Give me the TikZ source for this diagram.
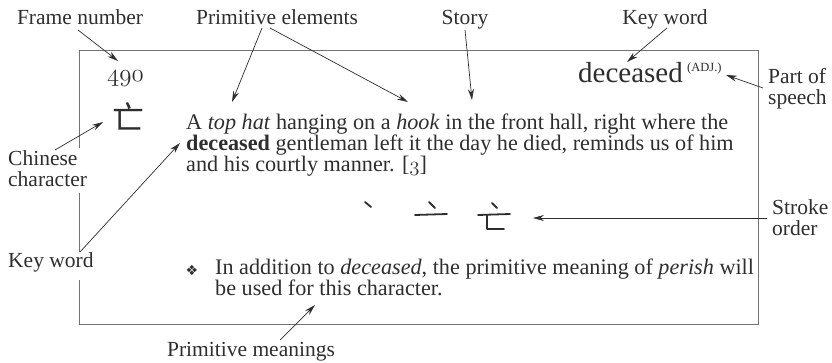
\documentclass[tikz,border=0pt]{standalone}
\usepackage{fontspec}
\setmainfont{Liberation Serif}
\newfontfamily\cjkfont{Noto Sans CJK SC}
\newfontfamily\dingfont{DejaVu Sans}
\usetikzlibrary{arrows.meta}
\newcommand\osf[1]{{\usefont{OML}{cmm}{m}{it}#1}}
\definecolor{ink}{gray}{0.18}
\definecolor{frame}{gray}{0.45}
\tikzset{
  lbl/.style={font=\fontsize{21.5}{21}\selectfont, inner sep=0pt, text=ink},
  body/.style={font=\fontsize{22.2}{21}\selectfont, inner sep=0pt, text=ink, anchor=base west},
  arr/.style={draw=ink, line width=0.7pt, -{Stealth[length=11pt,width=6pt]}},
  boxline/.style={draw=frame, line width=0.6pt},
  strk/.style={draw=ink, line width=1.8pt, line cap=round, line join=round}
}
\begin{document}
\begin{tikzpicture}[x=1pt,y=-1pt]
\useasboundingbox (0,0) rectangle (832,363);

% frame
\draw[boxline] (79,148) -- (79,50) -- (758,50) -- (758,324) -- (79,324) -- (79,280);
\draw[boxline] (79,193) -- (79,252);

% labels
\node[lbl, anchor=base] (fn) at (80,25) {Frame number};
\node[lbl, anchor=base] (pe) at (277,25) {Primitive elements};
\node[lbl, anchor=base] (st) at (465,25) {Story};
\node[lbl, anchor=base] (kwt) at (665,25) {Key word};
\node[lbl, anchor=base west] (pos1) at (768,84) {Part of};
\node[lbl, anchor=base west] (pos2) at (768,105) {speech};
\node[lbl, anchor=base west] (cc1) at (8,166) {Chinese};
\node[lbl, anchor=base west] (cc2) at (8,187) {character};
\node[lbl, anchor=base west] (kwl) at (8,268) {Key word};
\node[lbl, anchor=base west] (so1) at (772,215) {Stroke};
\node[lbl, anchor=base west] (so2) at (772,236) {order};
\node[lbl, anchor=base] (pm) at (251,356) {Primitive meanings};

% content
\node[inner sep=0pt, anchor=base west, text=ink, font=\fontsize{28}{28}\selectfont] (num) at (107,82) {\osf{490}};
\node[inner sep=0pt, text=ink, font=\cjkfont\fontsize{32}{32}\selectfont] (chr) at (128,116) {亡};
\node[body, font=\fontsize{29}{29}\selectfont] (kw) at (578,83) {deceased};
\node[body, font=\fontsize{12.5}{13}\selectfont] (adj) at (687,72) {(ADJ.)};

\node[body] (s1) at (186,129.5) {A \textit{top hat} hanging on a \textit{hook} in the front hall, right where the};
\node[body] (s2) at (186,150.5) {\textbf{deceased} gentleman left it the day he died, reminds us of him};
\node[body] (s3) at (186,171.5) {and his courtly manner. [\osf{3}]};

\node[inner sep=0pt, text=ink, font=\dingfont\fontsize{14}{14}\selectfont] (bul) at (192,270) {❖};
\node[body] (b1) at (215,274) {In addition to \textit{deceased}, the primitive meaning of \textit{perish} will};
\node[body] (b2) at (215,295) {be used for this character.};

% stroke order
\draw[strk] (365,202) -- (371,207);
\draw[strk] (429,202) -- (435,208);
\draw[strk] (415,215) -- (447,214);
\draw[strk] (492,203) -- (497,208);
\draw[strk] (478,215) -- (510,214);
\draw[strk] (487,215) -- (487,229) -- (504,229);

% arrow coordinates
\coordinate (a1s) at (78,30);   \coordinate (a1e) at (118,61);
\coordinate (a2s) at (262,28);  \coordinate (a2e) at (232,102);
\coordinate (a3s) at (270,28);  \coordinate (a3e) at (408,102);
\coordinate (a4s) at (465,30);  \coordinate (a4e) at (472,100);
\coordinate (a5s) at (667,28);  \coordinate (a5e) at (627,62);
\coordinate (a6s) at (763,88);  \coordinate (a6e) at (726,75);
\coordinate (a7s) at (55,150);  \coordinate (a7e) at (103,122);
\coordinate (a8s) at (80,252);  \coordinate (a8e) at (180,143);
\coordinate (a9s) at (767,218); \coordinate (a9e) at (533,218);
\coordinate (a10s) at (280,340); \coordinate (a10e) at (315,305);

\draw[arr] (a1s) -- (a1e);
\draw[arr] (a2s) -- (a2e);
\draw[arr] (a3s) -- (a3e);
\draw[arr] (a4s) -- (a4e);
\draw[arr] (a5s) -- (a5e);
\draw[arr] (a6s) -- (a6e);
\draw[arr] (a7s) -- (a7e);
\draw[arr] (a8s) -- (a8e);
\draw[arr] (a9s) -- (a9e);
\draw[arr] (a10s) -- (a10e);
\end{tikzpicture}
\end{document}
